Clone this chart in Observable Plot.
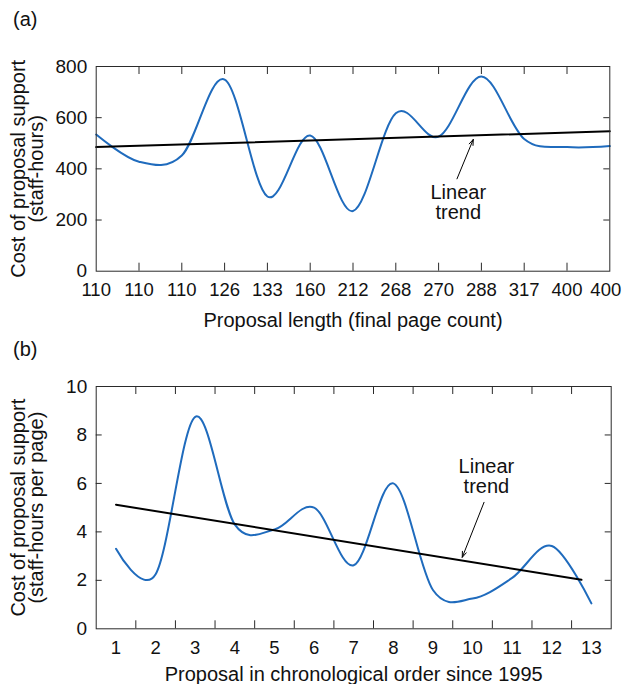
<!DOCTYPE html>
<html><head><meta charset="utf-8">
<script src="https://cdn.jsdelivr.net/npm/d3@7"></script>
<script src="https://cdn.jsdelivr.net/npm/@observablehq/plot@0.6"></script>
<style>
body{margin:0;background:#fff;font-family:"Liberation Sans",Arial,Helvetica,sans-serif;}
#wrap{position:relative;width:622px;height:684px;overflow:hidden;}
.panel{position:absolute;left:13px;font-size:20px;line-height:23px;color:#111;}
.chart{position:absolute;left:0;}
</style></head><body>
<div id="wrap"></div>
<script>
// ---- Panel (a) data ----
const lengthLabels = ["110","110","110","126","133","160","212","268","270","288","317","400","400"];
const costHours = [534, 428, 452, 749, 292, 530, 235, 617, 526, 761, 517, 485, 489];
const trendAIdx = [0, 12];
const trendAVal = [485, 547];
const yTicksA = [0, 200, 400, 600, 800];
const noteA = {x: 8.46, y: 268, ax1: 8.43, ay1: 361, ax2: 8.81, ay2: 515};

// ---- Panel (b) data ----
const proposals = [1,2,3,4,5,6,7,8,9,10,11,12,13];
const costPerPage = [3.3, 2.25, 8.75, 4.3, 4.1, 5.0, 2.62, 6.0, 1.6, 1.25, 2.1, 3.42, 1.05];
const trendBIdx = [1, 12.75];
const trendBVal = [5.12, 2.02];
const yTicksB = [0, 2, 4, 6, 8, 10];
const noteB = {x: 10.35, y: 6.29, ax1: 10.29, ay1: 5.22, ax2: 9.74, ay2: 2.95};

const BLUE = "#1f6bbd";
const FRAME = "#2a2a2a";
const FONT = "Liberation Sans, Arial, Helvetica, sans-serif";

function panel({top, height, mt, mb, ml, mr, xDomain, yDomain, yTicks, xTickPos, xLabelPos, xLabelFmt, lastDx,
                series, seriesX, trendX, trendY, note, yTitle1, yTitle2, xTitle, xTitleDy}) {
  const W = 622 - ml - mr, H = height - mt - mb;
  const innerY = yTicks.slice(1, -1);
  const svg = Plot.plot({
    width: 622, height,
    marginTop: mt, marginBottom: mb, marginLeft: ml, marginRight: mr,
    style: {fontFamily: FONT, fontSize: "18.5px", background: "transparent", color: "#111", overflow: "visible"},
    x: {domain: xDomain},
    y: {domain: yDomain},
    marks: [
      // inward ticks
      Plot.ruleX(xTickPos, {x: d => d, insetTop: H - 8, stroke: FRAME}),
      Plot.ruleX(xTickPos, {x: d => d, insetBottom: H - 8, stroke: FRAME}),
      Plot.ruleY(innerY, {y: d => d, insetRight: W - 6, stroke: FRAME}),
      Plot.ruleY(innerY, {y: d => d, insetLeft: W - 6, stroke: FRAME}),
      Plot.axisX({ticks: xLabelPos.slice(0, -1), tickFormat: xLabelFmt, tickSize: 0, tickPadding: 12, fontSize: 18.5, label: null}),
      Plot.axisX({ticks: xLabelPos.slice(-1), tickFormat: xLabelFmt, tickSize: 0, tickPadding: 12, fontSize: 18.5, label: null, dx: lastDx}),
      Plot.axisY({ticks: yTicks, tickSize: 0, tickPadding: 9, fontSize: 19, label: null}),
      // data
      Plot.line(series, {x: (d, i) => seriesX[i], y: d => d, curve: "cardinal", stroke: BLUE, strokeWidth: 2}),
      Plot.line(trendX.map((x, k) => ({x, y: trendY[k]})), {x: "x", y: "y", stroke: "#000", strokeWidth: 2}),
      Plot.arrow([note], {x1: "ax1", y1: "ay1", x2: "ax2", y2: "ay2", stroke: "#000", strokeWidth: 1, headLength: 9, headAngle: 40}),
      Plot.text([note], {x: "x", y: "y", text: () => "Linear\ntrend", fontSize: 20, lineHeight: 1.0, lineAnchor: "middle", fill: "#111"}),
      // titles
      Plot.text([yTitle1], {text: d => d, frameAnchor: "left", textAnchor: "middle", rotate: -90, dx: -(ml - 18), fontSize: 20, lineAnchor: "middle", fill: "#111"}),
      Plot.text([yTitle2], {text: d => d, frameAnchor: "left", textAnchor: "middle", rotate: -90, dx: -(ml - 36.5), fontSize: 20, lineAnchor: "middle", fill: "#111"}),
      Plot.text([xTitle], {text: d => d, frameAnchor: "bottom", textAnchor: "middle", dy: xTitleDy, fontSize: 20, lineAnchor: "middle", fill: "#111"}),
      Plot.frame({stroke: FRAME, strokeWidth: 1})
    ]
  });
  svg.classList.add("chart");
  svg.style.top = top + "px";
  return svg;
}

const wrap = document.getElementById("wrap");

const aIdx = lengthLabels.map((_, i) => i);
wrap.appendChild(panel({
  top: 0, height: 340, mt: 66, mb: 69.3, ml: 95.7, mr: 12.7,
  xDomain: [0, 12], yDomain: [0, 800], yTicks: yTicksA,
  xTickPos: aIdx.slice(1, -1), xLabelPos: aIdx, xLabelFmt: i => lengthLabels[i], lastDx: -4,
  series: costHours, seriesX: aIdx, trendX: trendAIdx, trendY: trendAVal, note: noteA,
  yTitle1: "Cost of proposal support", yTitle2: "(staff-hours)",
  xTitle: "Proposal length (final page count)", xTitleDy: 49.3
}));

wrap.appendChild(panel({
  top: 340, height: 344, mt: 46, mb: 55.7, ml: 95.7, mr: 11.3,
  xDomain: [0.5, 13.5], yDomain: [0, 10], yTicks: yTicksB,
  xTickPos: proposals.slice(0, -1).map(p => p + 0.5), xLabelPos: proposals, xLabelFmt: d => String(d), lastDx: 0,
  series: costPerPage, seriesX: proposals, trendX: trendBIdx, trendY: trendBVal, note: noteB,
  yTitle1: "Cost of proposal support", yTitle2: "(staff-hours per page)",
  xTitle: "Proposal in chronological order since 1995", xTitleDy: 45.7
}));

for (const [t, y] of [["(a)", 8], ["(b)", 338]]) {
  const d = document.createElement("div");
  d.className = "panel"; d.textContent = t; d.style.top = y + "px";
  wrap.appendChild(d);
}
</script>
</body></html>
